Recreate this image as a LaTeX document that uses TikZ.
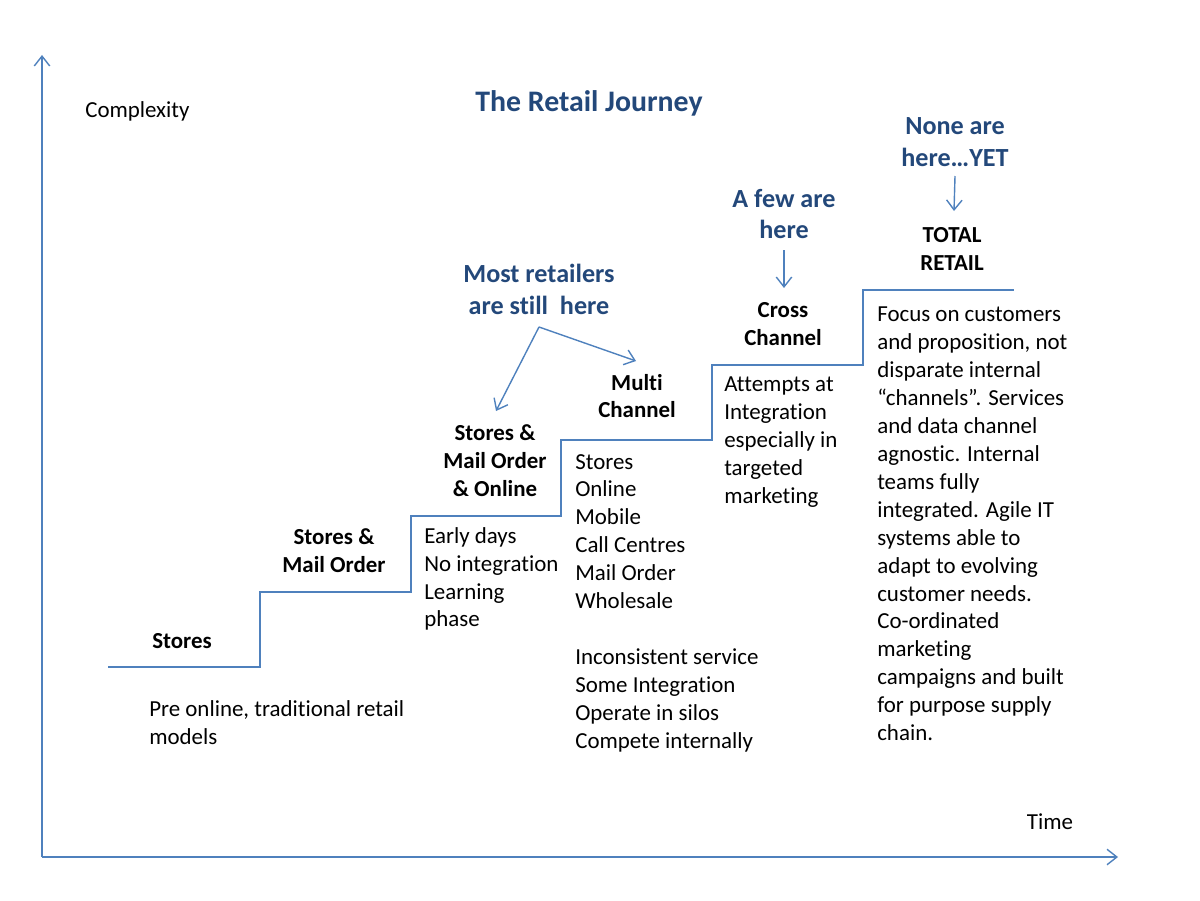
\documentclass[tikz,border=0pt]{standalone}
\usepackage{fontspec}
\setmainfont{Carlito}[Ligatures=NoCommon]
\usetikzlibrary{arrows.meta}
\definecolor{stairblue}{RGB}{79,129,189}
\definecolor{notenavy}{RGB}{35,72,122}

\begin{document}
\begin{tikzpicture}[x=0.025cm,y=-0.025cm,
  txt/.style={inner sep=0pt, align=left, font=\fontsize{16.3}{19.85}\selectfont},
  head/.style={inner sep=0pt, align=center, font=\fontsize{16.3}{19.85}\selectfont\bfseries},
  note/.style={inner sep=0pt, align=center, text=notenavy, font=\fontsize{18.6}{22.7}\selectfont\bfseries},
  pointer/.style={stairblue, line width=1pt, -{Straight Barb[length=7pt,width=11pt]}}]
\useasboundingbox (0,0) rectangle (1200,900);
% axes
\coordinate (O) at (42,857);
\coordinate (ytop) at (42,55);
\coordinate (xend) at (1118,857);
\draw [pointer] (O) -- (ytop);
\draw [pointer] (O) -- (xend);
\node [txt, anchor=west] (compl) at (85,111) {Complexity};
\node [txt] (time) at (1050,822) {Time};
\node [note, font=\fontsize{21.2}{25}\selectfont\bfseries] (title) at (589,103) {The Retail Journey};
% the stairs
\draw [stairblue, line width=1pt] (108,667) -- (260,667) -- (260,592) -- (411,592)
  -- (411,516) -- (561,516) -- (561,440) -- (712,440) -- (712,365) -- (863,365)
  -- (863,290) -- (1014,290);
% stage names
\node [head] (stores) at (182,641) {Stores};
\node [head] (stmo) at (334,551) {Stores \&\\Mail Order};
\node [head] (stmoon) at (495,461) {Stores \&\\Mail Order\\\& Online};
\node [head] (multi) at (637,396) {Multi\\Channel};
\node [head] (cross) at (783,324) {Cross\\Channel};
\node [head] (total) at (952,249) {TOTAL\\RETAIL};
% descriptions
\node [txt, anchor=west] (premod) at (149,723) {Pre online, traditional retail\\models};
\node [txt, anchor=west] (early) at (424,579) {Early days\\No integration\\Learning\\phase};
\node [txt, anchor=west] (chan) at (575,603) {Stores\\Online\\Mobile\\Call Centres\\Mail Order\\Wholesale\\[19.85pt]Inconsistent service\\Some Integration\\Operate in silos\\Compete internally};
\node [txt, anchor=west] (attempt) at (724,442) {Attempts at\\Integration\\especially in\\targeted\\marketing};
\node [txt, anchor=west] (focus) at (877,524) {Focus on customers\\and proposition, not\\disparate internal\\“channels”. Services\\and data channel\\agnostic. Internal\\teams fully\\integrated. Agile IT\\systems able to\\adapt to evolving\\customer needs.\\Co-ordinated\\marketing\\campaigns and built\\for purpose supply\\chain.};
% where the retailers are
\node [note] (most) at (539,289) {Most retailers\\are still~~here};
\node [note] (few) at (784,214) {A few are\\here};
\node [note] (none) at (955,142) {None are\\here…YET};
\coordinate (fork) at (539,327);
\coordinate (mostL) at (496,411);
\coordinate (mostR) at (636,361);
\coordinate (fewtip) at (784,288);
\coordinate (nonetip) at (954,211);
\draw [pointer] (fork) -- (mostL);
\draw [pointer] (fork) -- (mostR);
\draw [pointer] (few.south |- 0,250) -- (fewtip);
\draw [pointer] (none.south |- 0,176) -- (nonetip);
\end{tikzpicture}
\end{document}
